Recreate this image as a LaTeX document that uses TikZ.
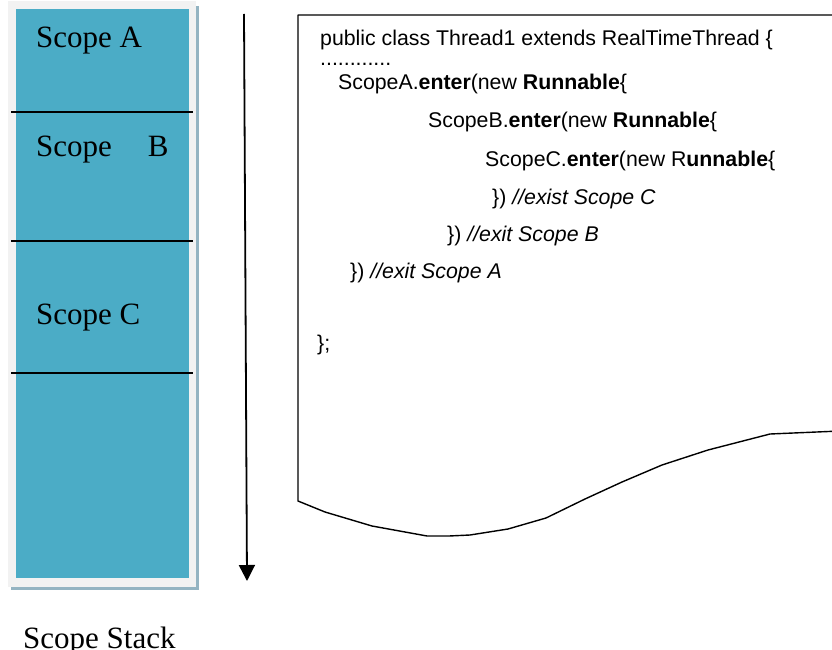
\documentclass[tikz,border=0pt]{standalone}
\usepackage{fontspec}
\setmainfont{Liberation Serif}
\newfontfamily\codefont{Liberation Sans}
\usetikzlibrary{arrows.meta}
\definecolor{stackteal}{HTML}{4BACC6}
\definecolor{stackframe}{HTML}{F2F2F2}
\definecolor{stackshade}{HTML}{94B4C2}
\begin{document}
\begin{tikzpicture}[x=1pt,y=-1pt,
  scopelabel/.style={anchor=base west, inner sep=0pt, font=\fontsize{31}{31}\selectfont},
  codeline/.style={anchor=base west, inner sep=0pt, font=\codefont\fontsize{21.3}{24}\selectfont},
  divider/.style={line width=1.3pt},
  flow/.style={line width=1.8pt, -{Triangle[width=16pt,length=16pt]}},
  pagebox/.style={line width=1.4pt, line join=round},
]
\useasboundingbox (0,0) rectangle (832,650);
\clip (0,0) rectangle (832,650);

% scope stack: shadow, frame and teal body
\fill[stackshade] (11,6) rectangle (199,590);
\fill[stackframe] (8,1) rectangle (196,587);
\fill[stackteal] (16,9) rectangle (189,578);

% dividers between the scopes
\coordinate (d1l) at (11,112); \coordinate (d1r) at (193,112);
\coordinate (d2l) at (11,241); \coordinate (d2r) at (193,241);
\coordinate (d3l) at (11,373); \coordinate (d3r) at (193,373);
\draw[divider] (d1l) -- (d1r);
\draw[divider] (d2l) -- (d2r);
\draw[divider] (d3l) -- (d3r);

\node[scopelabel] (sa) at (36,48) {Scope A};
\node[scopelabel] (sb) at (36,157) {Scope\hspace{36pt}B};
\node[scopelabel] (sc) at (36,324) {Scope C};
\node[scopelabel] (ss) at (23,648) {Scope Stack};

% direction of growth
\coordinate (flowtop) at (244,14);
\coordinate (flowend) at (247,581);
\draw[flow] (flowtop) -- (flowend);

% torn page holding the code
\draw[pagebox] (840,15) -- (298,15) -- (298,501) -- (325,512) -- (372,526)
  -- (427,536) -- (449,536) -- (470,535) -- (508,529) -- (546,518)
  -- (585,499) -- (622,482) -- (662,465) -- (708,450) -- (770,434)
  -- (840,431);

\node[codeline] (l1) at (320,46) {public class Thread1 extends RealTimeThread \{};
\node[codeline] (l2) at (320,66) {............};
\node[codeline] (l3) at (338,90) {ScopeA.\textbf{enter}(new \textbf{Runnable}\{};
\node[codeline] (l4) at (428,128) {ScopeB.\textbf{enter}(new \textbf{Runnable}\{};
\node[codeline] (l5) at (485,166) {ScopeC.\textbf{enter}(new R\textbf{unnable}\{};
\node[codeline] (l6) at (492,204) {\}) \textit{//exist Scope C}};
\node[codeline] (l7) at (447,241) {\}) \textit{//exit Scope B}};
\node[codeline] (l8) at (350,278) {\}) \textit{//exit Scope A}};
\node[codeline] (l9) at (317,350) {\};};
\end{tikzpicture}
\end{document}
